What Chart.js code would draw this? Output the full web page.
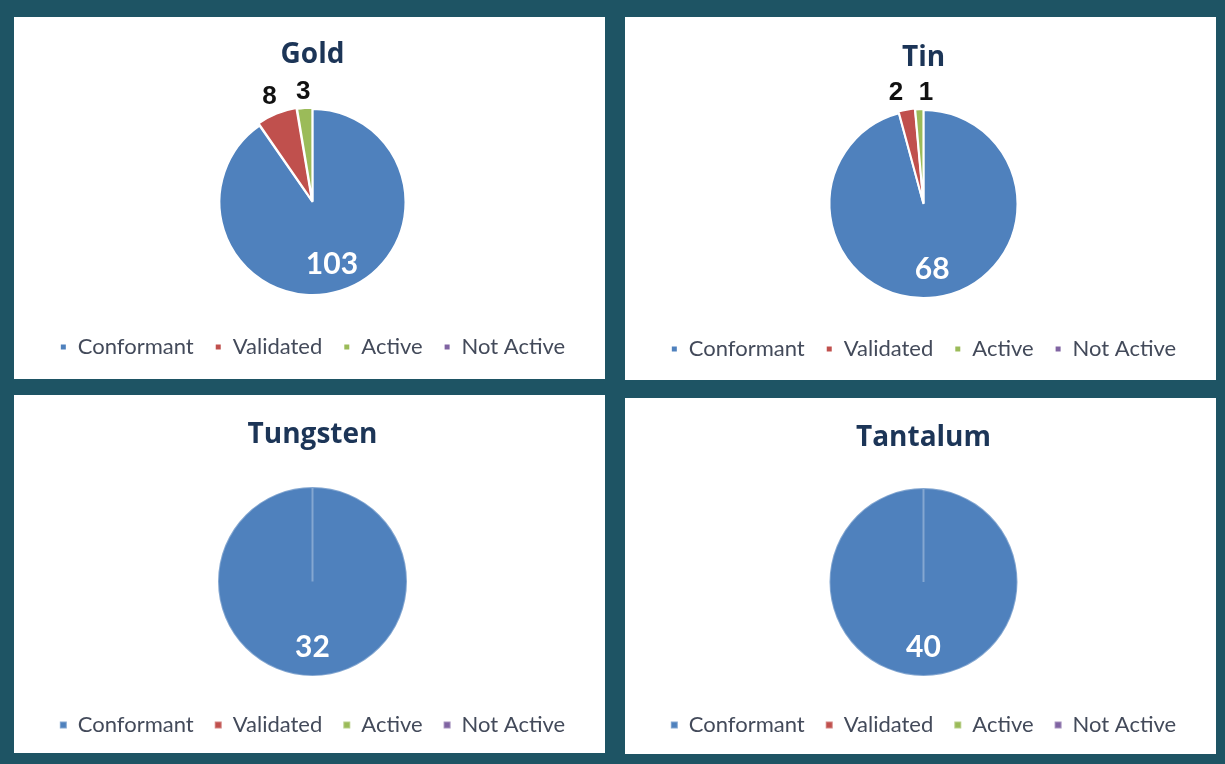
<!DOCTYPE html>
<html>
<head>
<meta charset="utf-8">
<script src="https://cdn.jsdelivr.net/npm/chart.js@4.4.1/dist/chart.umd.min.js"></script>
<style>
  html, body { margin: 0; padding: 0; }
  body { width: 1225px; height: 764px; background: #1e5464; position: relative; overflow: hidden; }
  .panel { position: absolute; background: #fff; width: 591px; }
</style>
</head>
<body>
<div class="panel" style="left:14px;top:17px;height:362px;"><canvas id="gold"></canvas></div>
<div class="panel" style="left:625px;top:17px;height:363px;"><canvas id="tin"></canvas></div>
<div class="panel" style="left:14px;top:395px;height:358px;"><canvas id="tungsten"></canvas></div>
<div class="panel" style="left:625px;top:398px;height:356px;"><canvas id="tantalum"></canvas></div>
<script>
const categories = ['Conformant', 'Validated', 'Active', 'Not Active'];
const goldValues = [103, 8, 3, 0];
const tinValues = [68, 2, 1, 0];
const tungstenValues = [32, 0, 0, 0];
const tantalumValues = [40, 0, 0, 0];

const sliceColors = ['#4f81bd', '#c0504d', '#9bbb59', '#8064a2'];

// value labels: big slices inside in white, thin ones outside in black
const sliceLabels = {
  id: 'sliceLabels',
  afterDatasetsDraw(chart) {
    const ctx = chart.ctx;
    const values = chart.data.datasets[0].data;
    const total = values.reduce((a, b) => a + b, 0);
    const outside = [];
    chart.getDatasetMeta(0).data.forEach((arc, i) => {
      const v = values[i];
      if (!v) return;
      const p = arc.getProps(['x', 'y', 'startAngle', 'endAngle', 'outerRadius']);
      const mid = (p.startAngle + p.endAngle) / 2;
      if (v / total > 0.25) {
        const d = p.outerRadius * 0.7;
        ctx.save();
        ctx.textAlign = 'center';
        ctx.textBaseline = 'middle';
        ctx.fillStyle = '#ffffff';
        ctx.font = 'bold 30px Lato';
        ctx.fillText(String(v), p.x + Math.cos(mid) * d, p.y + Math.sin(mid) * d);
        ctx.restore();
      } else {
        const d = p.outerRadius + 15 + (arc.options.offset || 0);
        outside.push({ text: String(v), x: p.x + Math.cos(mid) * d, y: p.y + Math.sin(mid) * d });
      }
    });
    // keep neighbouring outside labels from overlapping
    const minGap = 30;
    for (let i = 1; i < outside.length; i++) {
      const a = outside[i - 1], b = outside[i];
      const gap = Math.abs(b.x - a.x);
      if (gap < minGap) {
        const push = (minGap - gap) / 2;
        const dir = b.x >= a.x ? 1 : -1;
        a.x -= push * dir;
        b.x += push * dir;
      }
    }
    ctx.save();
    ctx.textAlign = 'center';
    ctx.textBaseline = 'middle';
    ctx.fillStyle = '#111111';
    ctx.font = 'bold 26px "Liberation Sans"';
    outside.forEach(l => ctx.fillText(l.text, l.x, l.y));
    ctx.restore();
  }
};

function makePie(id, title, values, offsets, box) {
  const r = 93;
  const spacing = 2 + Math.max(...offsets);
  const titleLine = 28 * 1.2;
  const titleTop = box.titleY - titleLine / 2;
  const areaTop = box.pieY - r - spacing / 2;
  const single = values.filter(v => v > 0).length === 1;
  new Chart(document.getElementById(id), {
    type: 'pie',
    data: {
      labels: categories,
      datasets: [{
        data: values,
        backgroundColor: sliceColors,
        borderColor: single ? 'rgba(255,255,255,0.3)' : '#ffffff',
        borderWidth: 2,
        offset: offsets,
        hoverOffset: 0
      }]
    },
    options: {
      responsive: true,
      maintainAspectRatio: false,
      animation: false,
      layout: { padding: { left: 6, bottom: box.h - 21 - box.legendY } },
      plugins: {
        title: {
          display: true,
          text: title,
          color: '#1c3557',
          font: { family: 'Open Sans', size: 28, weight: 'bold', lineHeight: 1.2 },
          padding: { top: titleTop, bottom: areaTop - titleTop - titleLine }
        },
        legend: {
          position: 'bottom',
          title: { display: true, text: '', font: { size: 1 }, padding: 7.4 },
          labels: {
            usePointStyle: true,
            pointStyle: 'rect',
            boxWidth: 7,
            boxHeight: 7,
            padding: 21,
            color: '#434a5a',
            font: { family: 'Lato', size: 22 }
          }
        },
        tooltip: { enabled: false }
      }
    },
    plugins: [sliceLabels]
  });
}

makePie('gold', 'Gold', goldValues, [0, 6, 3, 0], { h: 362, titleY: 38, pieY: 185, legendY: 330 });
makePie('tin', 'Tin', tinValues, [0, 4, 2, 0], { h: 363, titleY: 41, pieY: 186, legendY: 332 });
makePie('tungsten', 'Tungsten', tungstenValues, [0, 0, 0, 0], { h: 358, titleY: 40, pieY: 185, legendY: 330 });
makePie('tantalum', 'Tantalum', tantalumValues, [0, 0, 0, 0], { h: 356, titleY: 40, pieY: 183, legendY: 327 });
</script>
</body>
</html>
